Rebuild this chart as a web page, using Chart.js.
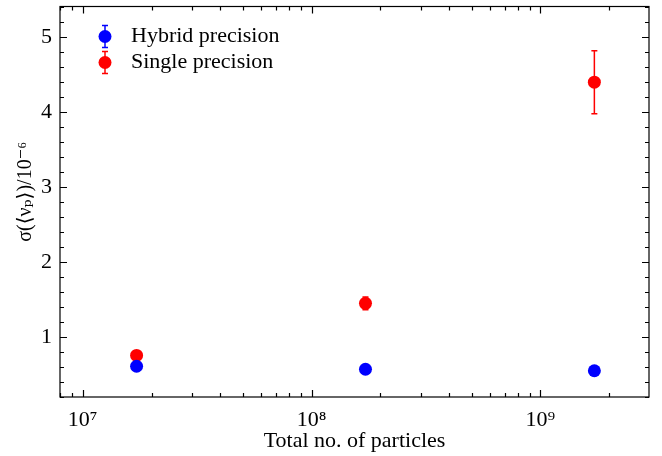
<!DOCTYPE html>
<html>
<head>
<meta charset="utf-8">
<script src="https://cdn.jsdelivr.net/npm/chart.js@4/dist/chart.umd.min.js"></script>
<style>
html, body { margin: 0; padding: 0; background: #fff; }
</style>
</head>
<body>
<canvas id="myChart" width="662" height="456"></canvas>
<script>
// values
var particles = [1.72e7, 1.72e8, 1.72e9];
var hybrid = [0.61, 0.57, 0.55];
var hybridErr = [0.03, 0.02, 0.02];
var single = [0.755, 1.45, 4.40];
var singleErr = [0.03, 0.085, 0.42];
var seriesNames = ['Hybrid precision', 'Single precision'];
var seriesColors = ['#0000ff', '#ff0000'];
var xTicks = [1e7, 1e8, 1e9];
var xTickLabels = ['10⁷', '10⁸', '10⁹'];
var yTicks = [1, 2, 3, 4, 5];

var errs = [hybridErr, singleErr];

function points(ys) {
    return particles.map(function (p, i) { return {x: p, y: ys[i]}; });
}

Chart.defaults.font.family = '"Liberation Serif", "DejaVu Serif", serif';
Chart.defaults.font.size = 22;
Chart.defaults.color = '#000';

// error bars under the markers
var errorBars = {
    id: 'errorBars',
    beforeDatasetsDraw: function (chart) {
        var ctx = chart.ctx, xs = chart.scales.x, ys = chart.scales.y;
        ctx.save();
        ctx.lineWidth = 1.5;
        chart.data.datasets.forEach(function (ds, d) {
            ctx.strokeStyle = ds.backgroundColor;
            ds.data.forEach(function (pt, i) {
                var px = xs.getPixelForValue(pt.x);
                var top = ys.getPixelForValue(pt.y + errs[d][i]);
                var bot = ys.getPixelForValue(pt.y - errs[d][i]);
                ctx.beginPath();
                ctx.moveTo(px, top); ctx.lineTo(px, bot);
                ctx.moveTo(px - 3, top); ctx.lineTo(px + 3, top);
                ctx.moveTo(px - 3, bot); ctx.lineTo(px + 3, bot);
                ctx.stroke();
            });
        });
        ctx.restore();
    }
};

// box frame with inward ticks on all four sides
var frameTicks = {
    id: 'frameTicks',
    afterDraw: function (chart) {
        var ctx = chart.ctx, a = chart.chartArea, xs = chart.scales.x, ys = chart.scales.y;
        ctx.save();
        ctx.strokeStyle = '#000';
        ctx.lineWidth = 1.2;
        ctx.strokeRect(a.left, a.top, a.right - a.left, a.bottom - a.top);
        ctx.beginPath();
        var tick = function (px, len, vertical) {
            if (vertical) {
                ctx.moveTo(px, a.bottom); ctx.lineTo(px, a.bottom - len);
                ctx.moveTo(px, a.top); ctx.lineTo(px, a.top + len);
            } else {
                ctx.moveTo(a.left, px); ctx.lineTo(a.left + len, px);
                ctx.moveTo(a.right, px); ctx.lineTo(a.right - len, px);
            }
        };
        for (var e = 6; e <= 9; e++) {
            for (var m = 1; m <= 9; m++) {
                var v = m * Math.pow(10, e);
                if (v < xs.min || v > xs.max) continue;
                tick(Math.round(xs.getPixelForValue(v)) + 0.5, m === 1 ? 7 : 4, true);
            }
        }
        for (var k = 1; k * 0.2 <= ys.max; k++) {
            var yv = k * 0.2;
            if (yv < ys.min) continue;
            tick(Math.round(ys.getPixelForValue(yv)) + 0.5, k % 5 === 0 ? 7 : 4, false);
        }
        ctx.stroke();
        ctx.restore();
    }
};

// legend with errorbar markers
var errLegend = {
    id: 'errLegend',
    afterDraw: function (chart) {
        var ctx = chart.ctx, a = chart.chartArea;
        ctx.save();
        chart.data.datasets.forEach(function (ds, d) {
            var cx = a.left + 45, cy = a.top + 30 + d * 26;
            ctx.strokeStyle = ds.backgroundColor;
            ctx.fillStyle = ds.backgroundColor;
            ctx.lineWidth = 1.5;
            ctx.beginPath();
            ctx.moveTo(cx, cy - 11); ctx.lineTo(cx, cy + 11);
            ctx.moveTo(cx - 3, cy - 11); ctx.lineTo(cx + 3, cy - 11);
            ctx.moveTo(cx - 3, cy + 11); ctx.lineTo(cx + 3, cy + 11);
            ctx.stroke();
            ctx.beginPath();
            ctx.arc(cx, cy, 6.5, 0, Math.PI * 2);
            ctx.fill();
            ctx.fillStyle = '#000';
            ctx.font = '22px "Liberation Serif", "DejaVu Serif", serif';
            ctx.textBaseline = 'middle';
            ctx.fillText(ds.label, cx + 26, cy);
        });
        ctx.restore();
    }
};

var ctx = document.getElementById('myChart').getContext('2d');
var myChart = new Chart(ctx, {
    type: 'scatter',
    data: {
        datasets: [
            { label: seriesNames[0], data: points(hybrid), backgroundColor: seriesColors[0], borderColor: seriesColors[0], pointRadius: 6.5, pointBorderWidth: 0 },
            { label: seriesNames[1], data: points(single), backgroundColor: seriesColors[1], borderColor: seriesColors[1], pointRadius: 6.5, pointBorderWidth: 0 }
        ]
    },
    options: {
        responsive: false,
        animation: false,
        layout: { padding: { left: 0, right: 13, top: 6, bottom: 0 } },
        plugins: { legend: { display: false }, tooltip: { enabled: false } },
        scales: {
            x: {
                type: 'logarithmic',
                min: 7.96e6,
                max: 2.98e9,
                afterBuildTicks: function (s) { s.ticks = xTicks.map(function (v) { return {value: v}; }); },
                afterFit: function (s) { s.height = 59; s.paddingLeft = 0; s.paddingRight = 0; },
                grid: { display: false, drawTicks: false },
                border: { display: false },
                ticks: {
                    autoSkip: false, maxRotation: 0, padding: 10,
                    callback: function (v, i) { return xTickLabels[i]; }
                },
                title: { display: true, text: 'Total no. of particles', padding: { top: 0, bottom: 2 } }
            },
            y: {
                type: 'linear',
                min: 0.2,
                max: 5.41,
                afterBuildTicks: function (s) { s.ticks = yTicks.map(function (v) { return {value: v}; }); },
                afterFit: function (s) { s.width = 60; s.paddingTop = 0; s.paddingBottom = 0; },
                grid: { display: false, drawTicks: false },
                border: { display: false },
                ticks: { padding: 8 },
                title: { display: true, text: '    σ(⟨νₚ⟩)/10⁻⁶', font: { size: 20 }, padding: { top: 14, bottom: 0 } }
            }
        }
    },
    plugins: [errorBars, frameTicks, errLegend]
});
</script>
</body>
</html>
